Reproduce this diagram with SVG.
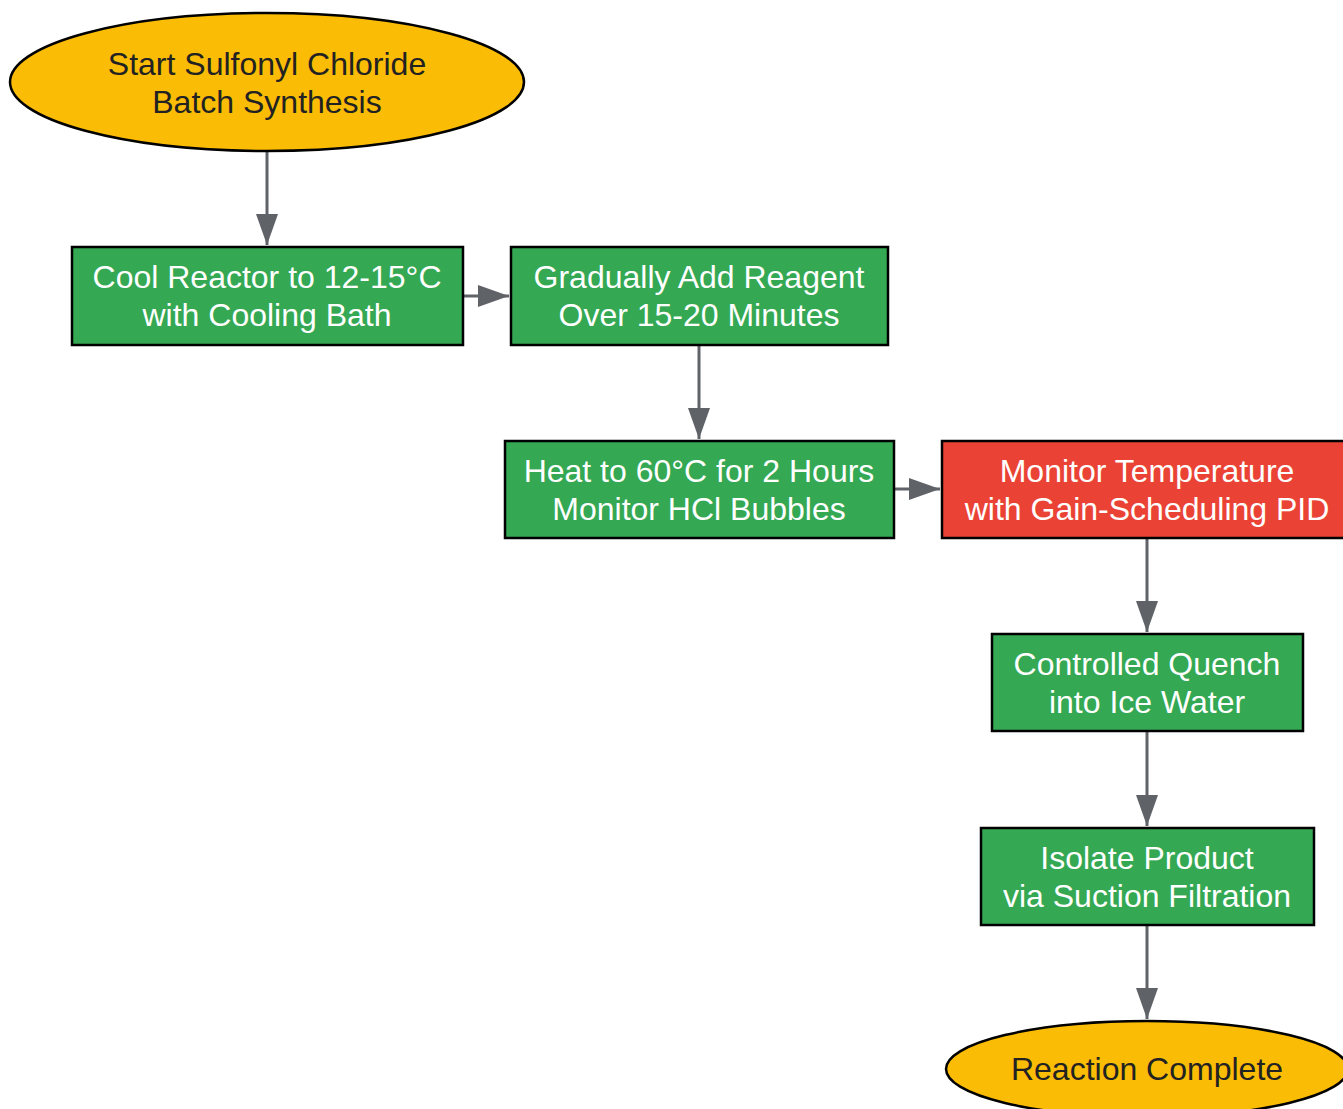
<svg xmlns="http://www.w3.org/2000/svg" width="1343" height="1109" viewBox="0 0 1343 1109">
<defs>
<style>
.term{fill:#FABC05;stroke:#000;stroke-width:2.5}
.step{fill:#34A853;stroke:#000;stroke-width:2.5}
.alert{fill:#EA4335;stroke:#000;stroke-width:2.5}
.dt{font-family:"Liberation Sans",Arial,sans-serif;font-size:32px;fill:#222;text-anchor:middle}
.lt{font-family:"Liberation Sans",Arial,sans-serif;font-size:32px;fill:#fff;text-anchor:middle}
.edge{stroke:#5F6368;stroke-width:3;fill:none}
</style>
<marker id="ah" markerUnits="userSpaceOnUse" markerWidth="32" markerHeight="24" refX="31" refY="11" orient="auto">
<path d="M0,0 L31,11 L0,22 z" fill="#5F6368"/>
</marker>
</defs>
<rect width="1343" height="1109" fill="#fff"/>
<g id="connectors">
<line class="edge" x1="267" y1="151" x2="267" y2="245" marker-end="url(#ah)"/>
<line class="edge" x1="463" y1="296" x2="509" y2="296" marker-end="url(#ah)"/>
<line class="edge" x1="699" y1="345" x2="699" y2="439" marker-end="url(#ah)"/>
<line class="edge" x1="894" y1="489" x2="940" y2="489" marker-end="url(#ah)"/>
<line class="edge" x1="1147" y1="538" x2="1147" y2="632" marker-end="url(#ah)"/>
<line class="edge" x1="1147" y1="731" x2="1147" y2="826" marker-end="url(#ah)"/>
<line class="edge" x1="1147" y1="925" x2="1147" y2="1019" marker-end="url(#ah)"/>
</g>
<g id="start">
<ellipse class="term" cx="267" cy="82" rx="257" ry="69"/>
<text class="dt" x="267" y="75">Start Sulfonyl Chloride</text>
<text class="dt" x="267" y="113">Batch Synthesis</text>
</g>
<g id="cool">
<rect class="step" x="72" y="247" width="391" height="98"/>
<text class="lt" x="267" y="288">Cool Reactor to 12-15°C</text>
<text class="lt" x="267" y="326">with Cooling Bath</text>
</g>
<g id="add">
<rect class="step" x="511" y="247" width="377" height="98"/>
<text class="lt" x="699" y="288">Gradually Add Reagent</text>
<text class="lt" x="699" y="326">Over 15-20 Minutes</text>
</g>
<g id="heat">
<rect class="step" x="505" y="441" width="389" height="97"/>
<text class="lt" x="699" y="482">Heat to 60°C for 2 Hours</text>
<text class="lt" x="699" y="520">Monitor HCl Bubbles</text>
</g>
<g id="monitor">
<rect class="alert" x="942" y="441" width="410" height="97"/>
<text class="lt" x="1147" y="482">Monitor Temperature</text>
<text class="lt" x="1147" y="520">with Gain-Scheduling PID</text>
</g>
<g id="quench">
<rect class="step" x="992" y="634" width="311" height="97"/>
<text class="lt" x="1147" y="675">Controlled Quench</text>
<text class="lt" x="1147" y="713">into Ice Water</text>
</g>
<g id="isolate">
<rect class="step" x="981" y="828" width="333" height="97"/>
<text class="lt" x="1147" y="869">Isolate Product</text>
<text class="lt" x="1147" y="907">via Suction Filtration</text>
</g>
<g id="end">
<ellipse class="term" cx="1147" cy="1069" rx="201" ry="48"/>
<text class="dt" x="1147" y="1080">Reaction Complete</text>
</g>
</svg>
